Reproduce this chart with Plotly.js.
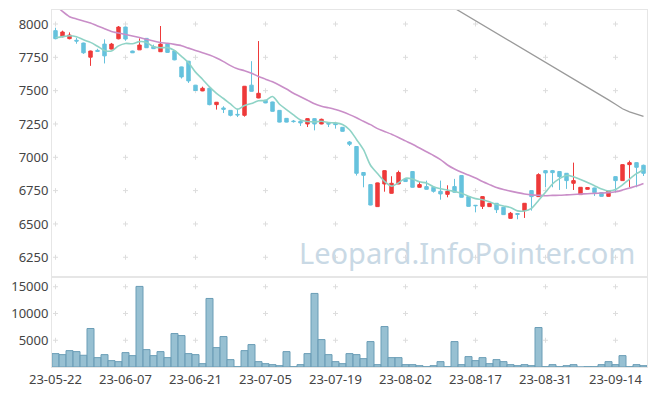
<!DOCTYPE html>
<html>
<head>
<meta charset="utf-8">
<script src="https://cdn.plot.ly/plotly-3.0.1.min.js"></script>
<style>html,body{margin:0;padding:0;background:#fff;}#chart{width:657px;height:396px;}</style>
</head>
<body>
<div id="chart"></div>
<script>
var dates = ["23-05-22","23-05-23","23-05-24","23-05-25","23-05-26","23-05-30","23-05-31","23-06-01","23-06-02","23-06-05","23-06-07","23-06-08","23-06-09","23-06-12","23-06-13","23-06-14","23-06-15","23-06-16","23-06-19","23-06-20","23-06-21","23-06-22","23-06-23","23-06-26","23-06-27","23-06-28","23-06-29","23-06-30","23-07-03","23-07-04","23-07-05","23-07-06","23-07-07","23-07-10","23-07-11","23-07-12","23-07-13","23-07-14","23-07-17","23-07-18","23-07-19","23-07-20","23-07-21","23-07-24","23-07-25","23-07-26","23-07-27","23-07-28","23-07-31","23-08-01","23-08-02","23-08-03","23-08-04","23-08-07","23-08-08","23-08-09","23-08-10","23-08-11","23-08-14","23-08-16","23-08-17","23-08-18","23-08-21","23-08-22","23-08-23","23-08-24","23-08-25","23-08-28","23-08-29","23-08-30","23-08-31","23-09-01","23-09-04","23-09-05","23-09-06","23-09-07","23-09-08","23-09-11","23-09-12","23-09-13","23-09-14","23-09-15","23-09-18","23-09-19","23-09-20"];

var openP = [7950,7905,7890,7878,7857,7751,7802,7849,7812,7889,7977,7797,7806,7892,7830,7792,7849,7797,7678,7721,7541,7498,7518,7395,7370,7352,7322,7315,7541,7445,7428,7415,7352,7292,7272,7270,7250,7290,7250,7255,7255,7225,7115,7081,6886,6795,6630,6800,6730,6800,6835,6893,6775,6780,6775,6745,6722,6780,6863,6705,6640,6632,6630,6655,6625,6542,6578,6600,6750,6705,6900,6900,6893,6880,6805,6720,6760,6770,6735,6707,6855,6825,6945,6960,6940];
var highP = [7972,7950,7937,7897,7860,7800,7814,7885,7858,7985,7980,7800,7892,7895,7845,7985,7852,7800,7680,7723,7543,7530,7520,7415,7383,7354,7365,7535,7721,7872,7430,7417,7354,7294,7280,7285,7292,7292,7290,7258,7258,7227,7122,7083,6888,6797,6810,6902,6858,6900,6837,6895,6820,6825,6777,6825,6790,6838,6865,6707,6642,6707,6657,6657,6627,6590,6580,6657,6752,6880,6902,6905,6895,6882,6960,6777,6775,6772,6737,6752,6857,6947,6975,6962,6945];
var lowP = [7885,7900,7885,7852,7776,7686,7792,7704,7810,7885,7874,7782,7805,7820,7812,7790,7785,7728,7591,7558,7500,7496,7390,7358,7332,7307,7302,7305,7493,7443,7406,7343,7262,7262,7260,7235,7227,7202,7248,7227,7215,7193,7085,6863,6775,6640,6628,6742,6728,6798,6816,6773,6773,6758,6735,6682,6700,6736,6698,6630,6587,6612,6628,6582,6568,6540,6535,6545,6600,6703,6775,6775,6755,6763,6755,6718,6758,6710,6705,6705,6737,6823,6775,6775,6860];
var closeP = [7890,7940,7917,7872,7784,7797,7795,7761,7849,7977,7887,7784,7842,7822,7815,7849,7787,7731,7603,7573,7501,7518,7395,7413,7360,7315,7318,7533,7495,7480,7408,7345,7264,7264,7268,7258,7290,7250,7285,7250,7245,7195,7098,6880,6865,6642,6808,6900,6805,6886,6818,6775,6795,6760,6745,6725,6745,6738,6700,6632,6637,6705,6655,6607,6570,6580,6572,6655,6705,6870,6883,6885,6855,6825,6825,6775,6773,6735,6707,6750,6825,6945,6960,6925,6880];
var volume = [2500,2310,3060,2875,2190,7190,1750,2310,1190,1000,2690,2125,15060,3250,2125,2875,1750,6250,5875,2500,2310,625,12810,3625,5690,1375,60,3060,4190,1000,625,440,250,2875,60,440,2500,13750,5125,2310,1000,625,2500,2310,1560,4750,440,7560,1750,1750,440,440,250,60,250,1000,60,4750,440,1940,1190,1750,625,1375,1000,440,250,440,250,7375,60,440,60,250,440,0,60,60,440,1000,440,2125,60,440,250];
var ma5 = [7897,7905,7912,7905,7881,7862,7833,7802,7797,7836,7854,7852,7868,7862,7830,7822,7823,7801,7757,7709,7639,7585,7528,7480,7441,7400,7360,7388,7404,7424,7427,7456,7398,7358,7318,7280,7269,7266,7270,7261,7258,7246,7207,7134,7057,6940,6878,6819,6784,6808,6843,6837,6816,6807,6779,6764,6755,6743,6731,6708,6690,6682,6666,6647,6635,6623,6598,6597,6617,6676,6737,6800,6840,6864,6854,6833,6811,6787,6763,6748,6758,6793,6837,6877,6907];
var ma20 = [8143,8094,8055,8038,8023,8008,7985,7965,7944,7932,7921,7910,7898,7885,7872,7861,7855,7847,7837,7819,7802,7784,7767,7745,7718,7688,7664,7650,7631,7606,7586,7566,7541,7512,7480,7454,7428,7401,7383,7371,7358,7341,7320,7296,7270,7245,7215,7194,7173,7149,7123,7098,7070,7041,7014,6983,6942,6912,6888,6867,6844,6818,6795,6773,6758,6746,6735,6725,6718,6715,6712,6714,6715,6718,6721,6724,6727,6729,6732,6735,6741,6754,6769,6784,6803];
var ma60Start = 55;
var ma60 = [8181,8150,8119,8087,8056,8026,7994,7963,7932,7902,7870,7839,7808,7777,7745,7715,7684,7652,7621,7590,7559,7528,7497,7465,7431,7398,7364,7341,7322,7307];
var priceTicks = [6250,6500,6750,7000,7250,7500,7750,8000];
var volTicks = [5000,10000,15000];
var xTickIdx = [0,10,20,30,40,50,60,70,80];

var xTickVals = xTickIdx.map(function(i){return dates[i];});
var ma60Full = dates.map(function(d,i){ return i >= ma60Start ? ma60[i-ma60Start] : null; });

var up = '#ee3a3a', down = '#66c2dd';
var traces = [
  {type:'candlestick', x:dates, open:openP, high:highP, low:lowP, close:closeP,
   xaxis:'x', yaxis:'y', whiskerwidth:0,
   increasing:{line:{color:up,width:1}, fillcolor:up},
   decreasing:{line:{color:down,width:1}, fillcolor:down},
   showlegend:false, hoverinfo:'skip'},
  {type:'scatter', mode:'lines', x:dates, y:ma60Full, xaxis:'x', yaxis:'y',
   line:{color:'#9a9a9a', width:1.3}, showlegend:false, hoverinfo:'skip'},
  {type:'scatter', mode:'lines', x:dates, y:ma20, xaxis:'x', yaxis:'y',
   line:{color:'#c98ec8', width:1.6, shape:'spline', smoothing:0.6}, showlegend:false, hoverinfo:'skip'},
  {type:'scatter', mode:'lines', x:dates, y:ma5, xaxis:'x', yaxis:'y',
   line:{color:'#8fd3c6', width:1.6, shape:'spline', smoothing:0.8}, showlegend:false, hoverinfo:'skip'},
  {type:'bar', x:dates, y:volume, xaxis:'x2', yaxis:'y2',
   marker:{color:'rgba(140,185,205,0.9)', line:{color:'#6a9db6', width:1}},
   showlegend:false, hoverinfo:'skip'}
];

var shapes = [];
function addCross(xr, yr, xi, yv){
  shapes.push({type:'line', xref:xr, yref:yr, xsizemode:'pixel', xanchor:xi, x0:-2.5, x1:2.5, y0:yv, y1:yv, line:{color:'#dddddd', width:1}, layer:'below'});
  shapes.push({type:'line', xref:xr, yref:yr, ysizemode:'pixel', yanchor:yv, y0:-2.5, y1:2.5, x0:xi, x1:xi, line:{color:'#dddddd', width:1}, layer:'below'});
}
xTickIdx.forEach(function(i){
  priceTicks.forEach(function(v){ addCross('x','y',i,v); });
  volTicks.forEach(function(v){ addCross('x2','y2',i,v); });
});

var split = 90/357;
var tickFont = {family:'"Noto Sans", sans-serif', size:13, color:'#444'};
var frame = {showline:true, mirror:true, linecolor:'#e6e6e6', linewidth:1, showgrid:false, zeroline:false};
var layout = {
  width:657, height:396,
  margin:{l:52, r:10, t:10, b:29},
  paper_bgcolor:'#fff', plot_bgcolor:'#fff',
  showlegend:false, bargap:0, dragmode:false,
  xaxis:Object.assign({type:'category', anchor:'y', range:[-0.5, dates.length-0.5], showticklabels:false, ticks:'', rangeslider:{visible:false}}, frame),
  xaxis2:Object.assign({type:'category', anchor:'y2', matches:'x', range:[-0.5, dates.length-0.5], tickmode:'array', tickvals:xTickVals, ticktext:xTickVals, tickfont:tickFont, ticks:'', tickangle:0}, frame),
  yaxis:Object.assign({domain:[split,1], range:[6102,8105], tickmode:'array', tickvals:priceTicks, tickformat:'d', tickfont:tickFont, ticks:''}, frame),
  yaxis2:Object.assign({domain:[0,split], range:[0,16820], tickmode:'array', tickvals:volTicks, tickformat:'d', tickfont:tickFont, ticks:''}, frame),
  shapes:shapes,
  annotations:[{xref:'paper', yref:'paper', x:0.985, y:0.32, xanchor:'right', yanchor:'middle', showarrow:false,
    text:'Leopard.InfoPointer.com', font:{family:'"Noto Sans", sans-serif', size:29, color:'#c9d9e5'}}]
};
Plotly.newPlot('chart', traces, layout, {staticPlot:true, displayModeBar:false});
</script>
</body>
</html>
